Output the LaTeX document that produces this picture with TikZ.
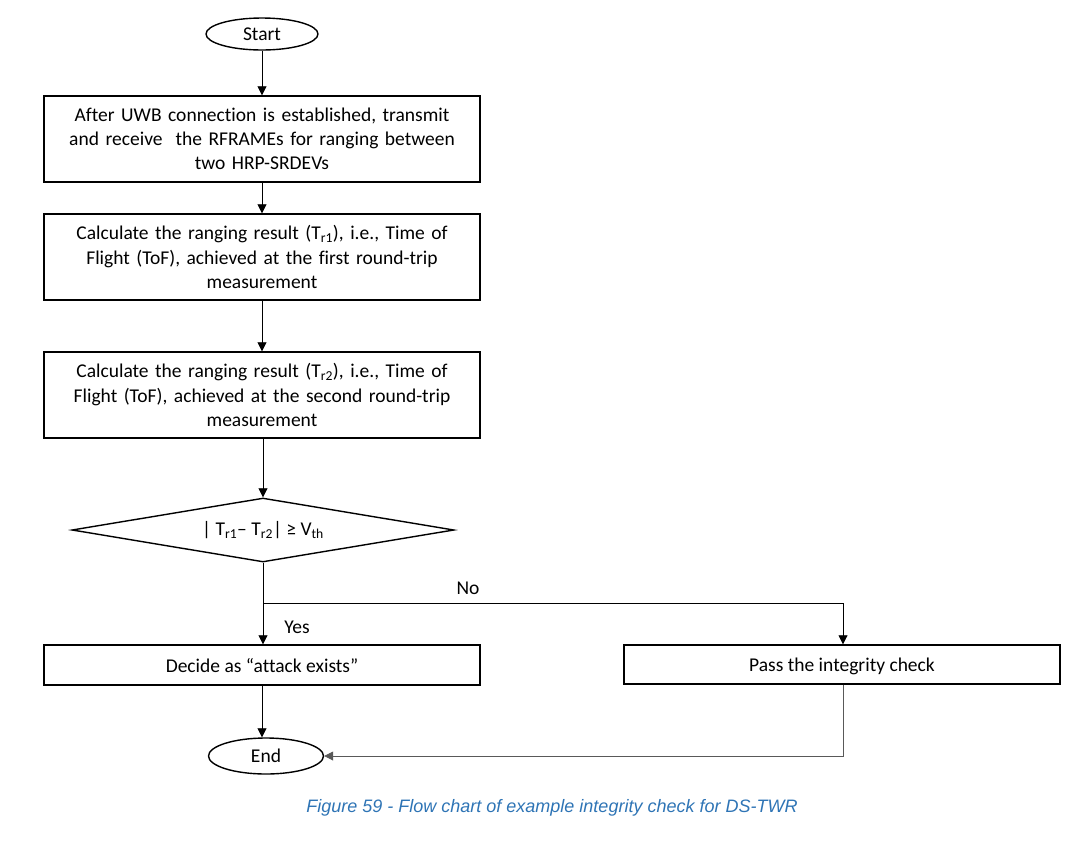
\documentclass[tikz,border=0pt]{standalone}
\usepackage{fontspec}
\setmainfont{Carlito}[Ligatures=NoCommon]
\newfontfamily\capfont{Liberation Sans}
\usetikzlibrary{shapes.geometric,arrows.meta}
\definecolor{capblue}{HTML}{2E74B5}
\begin{document}
\begin{tikzpicture}[x=1pt,y=-1pt,
  every node/.style={font=\fontsize{19.5}{24.2}\selectfont},
  procbox/.style={draw,line width=1.4pt,minimum width=436pt,inner sep=0pt,align=center,text width=425pt},
  onebox/.style={draw,line width=1.4pt,minimum width=436pt,inner sep=0pt,text height=16pt,text depth=2pt},
  term/.style={draw,ellipse,line width=1.4pt,inner sep=0pt},
  decis/.style={draw,diamond,line width=1.4pt,inner sep=0pt,aspect=6,minimum width=382pt,minimum height=64pt},
  conn/.style={line width=0.8pt,-{Triangle[length=9pt,width=9pt]}},
  lbl/.style={inner sep=0pt}]
\useasboundingbox (0,0) rectangle (1082,855);
\node[term,minimum width=112pt,minimum height=32pt] (start) at (262,34) {Start};
\node[procbox,minimum height=86pt] (b1) at (262,139) {After UWB connection is established, transmit\\and receive\ \ the RFRAMEs for ranging between\\two HRP-SRDEVs};
\node[procbox,minimum height=86pt] (b2) at (262,257) {Calculate the ranging result (T\textsubscript{r1}), i.e., Time of\\Flight (ToF), achieved at the first round-trip\\measurement};
\node[procbox,minimum height=86pt] (b3) at (262,395) {Calculate the ranging result (T\textsubscript{r2}), i.e., Time of\\Flight (ToF), achieved at the second round-trip\\measurement};
\node[decis] (d) at (263,530) {| T\textsubscript{r1}-- T\textsubscript{r2}| ≥ V\textsubscript{th}};
\node[onebox,minimum height=40pt] (b4) at (262,665) {Decide as “attack exists”};
\node[onebox,minimum height=39pt] (b5) at (842,664.5) {Pass the integrity check};
\node[term,minimum width=115pt,minimum height=36pt] (e) at (266,756) {End};
\coordinate (split) at (263,603);
\coordinate (turn) at (843,603);
\coordinate (corner) at (843,756);
\draw[conn] (start) -- (b1);
\draw[conn] (b1) -- (b2);
\draw[conn] (b2) -- (b3);
\draw[conn] (b3.south -| d.north) -- (d.north);
\draw[conn] (d.south) -- (d.south |- b4.north);
\draw[conn] (split) -- (turn) -- (b5.north -| turn);
\draw[conn] (b4.south) -- (b4.south |- e.north);
\draw[conn,draw=black!65] (b5.south -| corner) -- (corner) -- (e.east);
\node[lbl] (yes) at (297,627) {Yes};
\node[lbl] (no) at (468,588) {No};
\node[lbl,font=\capfont\itshape\fontsize{18}{20}\selectfont,text=capblue] (cap) at (552,808) {Figure 59 - Flow chart of example integrity check for DS-TWR};
\end{tikzpicture}
\end{document}
